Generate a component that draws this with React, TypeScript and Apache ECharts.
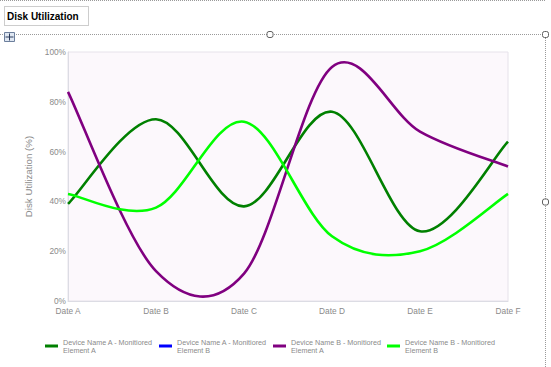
import React, { useEffect, useRef } from 'react';
import * as echarts from 'echarts';

const categories = ['Date A', 'Date B', 'Date C', 'Date D', 'Date E', 'Date F'];
const seriesNames = [
  'Device Name A - Monitiored Element A',
  'Device Name A - Monitiored Element B',
  'Device Name B - Monitiored Element A',
  'Device Name B - Monitiored Element B',
];
const seriesColors = ['#008000', '#0000FF', '#800080', '#00FF00'];
const deviceAElementA = [39, 73, 38, 76, 28, 64];
const deviceAElementB: number[] = [];
const deviceBElementA = [84, 12, 11, 94, 68, 54];
const deviceBElementB = [43, 37.5, 72, 26, 20, 43];
const seriesValues = [deviceAElementA, deviceAElementB, deviceBElementA, deviceBElementB];
const yTicks = [0, 20, 40, 60, 80, 100];
const chartTitle = 'Disk Utilization';
const yAxisTitle = 'Disk Utilization (%)';

function catmullPath(pts: number[][]): string {
  if (pts.length === 0) return '';
  let d = `M${pts[0][0]},${pts[0][1]}`;
  for (let i = 0; i < pts.length - 1; i++) {
    const p0 = pts[i - 1] || pts[i];
    const p1 = pts[i];
    const p2 = pts[i + 1];
    const p3 = pts[i + 2] || pts[i + 1];
    const c1x = p1[0] + (p2[0] - p0[0]) / 6;
    const c1y = p1[1] + (p2[1] - p0[1]) / 6;
    const c2x = p2[0] - (p3[0] - p1[0]) / 6;
    const c2y = p2[1] - (p3[1] - p1[1]) / 6;
    d += ` C${c1x},${c1y} ${c2x},${c2y} ${p2[0]},${p2[1]}`;
  }
  return d;
}

export default function App() {
  const ref = useRef<HTMLDivElement>(null);
  useEffect(() => {
    if (!ref.current) return;
    const chart = echarts.init(ref.current, undefined, { renderer: 'svg' });
    const font = '"Liberation Sans", Arial, sans-serif';
    const dotted = { stroke: '#9a9a9a', lineWidth: 1, lineDash: [1, 1] };
    const handle = (x: number, y: number) => ({
      type: 'rect',
      shape: { x: x - 3, y: y - 3, width: 6, height: 6, r: 2 },
      style: { fill: '#ffffff', stroke: '#606060', lineWidth: 1 },
      z: 10,
    });
    chart.setOption({
      animation: false,
      textStyle: { fontFamily: font },
      grid: { left: 68, right: 43, top: 52, bottom: 66, show: true, backgroundColor: '#fcf8fc', borderColor: '#e6e2ea', borderWidth: 1 },
      legend: {
        left: 45,
        top: 338,
        padding: 0,
        icon: 'rect',
        itemWidth: 13,
        itemHeight: 3,
        itemGap: 5,
        data: seriesNames,
        formatter: (n: string) => n.replace(' Element', '\nElement'),
        textStyle: { color: '#8a8a8a', fontSize: 7.2, lineHeight: 8, width: 91, fontFamily: font },
      },
      xAxis: {
        type: 'category',
        data: categories,
        boundaryGap: false,
        axisLine: { show: true, lineStyle: { color: '#dcdce4' } },
        axisTick: { show: false },
        axisLabel: { color: '#8a8a8a', fontSize: 8.3, margin: 6, fontFamily: font },
        splitLine: { show: false },
      },
      yAxis: {
        type: 'value',
        min: yTicks[0],
        max: yTicks[yTicks.length - 1],
        interval: 20,
        name: yAxisTitle,
        nameLocation: 'middle',
        nameRotate: 90,
        nameGap: 33,
        nameTextStyle: { color: '#8a8a8a', fontSize: 9.7, fontFamily: font },
        axisLine: { show: true, lineStyle: { color: '#dcdce4' } },
        axisTick: { show: false },
        axisLabel: { color: '#8a8a8a', fontSize: 8.3, margin: 2, formatter: '{value}%', fontFamily: font },
        splitLine: { show: false },
      },
      series: seriesNames.map((name, si) => ({
        name,
        type: 'custom',
        itemStyle: { color: seriesColors[si] },
        encode: { x: 0, y: 1 },
        data: seriesValues[si].map((v, i) => [i, v]),
        renderItem: (params: any, api: any) => {
          if (params.dataIndex !== 0) return null;
          const pts = seriesValues[si].map((v, i) => api.coord([i, v]));
          return {
            type: 'path',
            shape: { pathData: catmullPath(pts) },
            style: { stroke: seriesColors[si], lineWidth: 2.6, fill: 'none' },
          };
        },
      })),
      graphic: [
        { type: 'line', shape: { x1: 0, y1: 0.5, x2: 545, y2: 0.5 }, style: dotted },
        { type: 'rect', shape: { x: 4.5, y: 6.5, width: 84, height: 19 }, style: { fill: 'none', ...dotted } },
        {
          type: 'text',
          x: 7,
          y: 16,
          style: { text: chartTitle, fill: '#000000', font: `bold 10px ${font}`, verticalAlign: 'middle' },
        },
        { type: 'line', shape: { x1: 16, y1: 34.5, x2: 545, y2: 34.5 }, style: dotted },
        { type: 'line', shape: { x1: 545.5, y1: 34, x2: 545.5, y2: 367 }, style: dotted },
        { type: 'line', shape: { x1: 0, y1: 34.5, x2: 4, y2: 34.5 }, style: dotted },
        {
          type: 'rect',
          shape: { x: 4.5, y: 32.5, width: 10, height: 9 },
          style: { fill: '#dfe7f2', stroke: '#6c7f9c', lineWidth: 1 },
          z: 10,
        },
        { type: 'line', shape: { x1: 9.5, y1: 33.5, x2: 9.5, y2: 40.5 }, style: { stroke: '#2a3a5a', lineWidth: 1 }, z: 11 },
        { type: 'line', shape: { x1: 5.5, y1: 37, x2: 13.5, y2: 37 }, style: { stroke: '#2a3a5a', lineWidth: 1 }, z: 11 },
        handle(270, 34.5),
        handle(545.5, 34.5),
        handle(545.5, 202),
      ],
    });
    return () => chart.dispose();
  }, []);
  return <div ref={ref} style={{ position: 'absolute', left: 0, top: 0, width: 551, height: 367 }} />;
}
